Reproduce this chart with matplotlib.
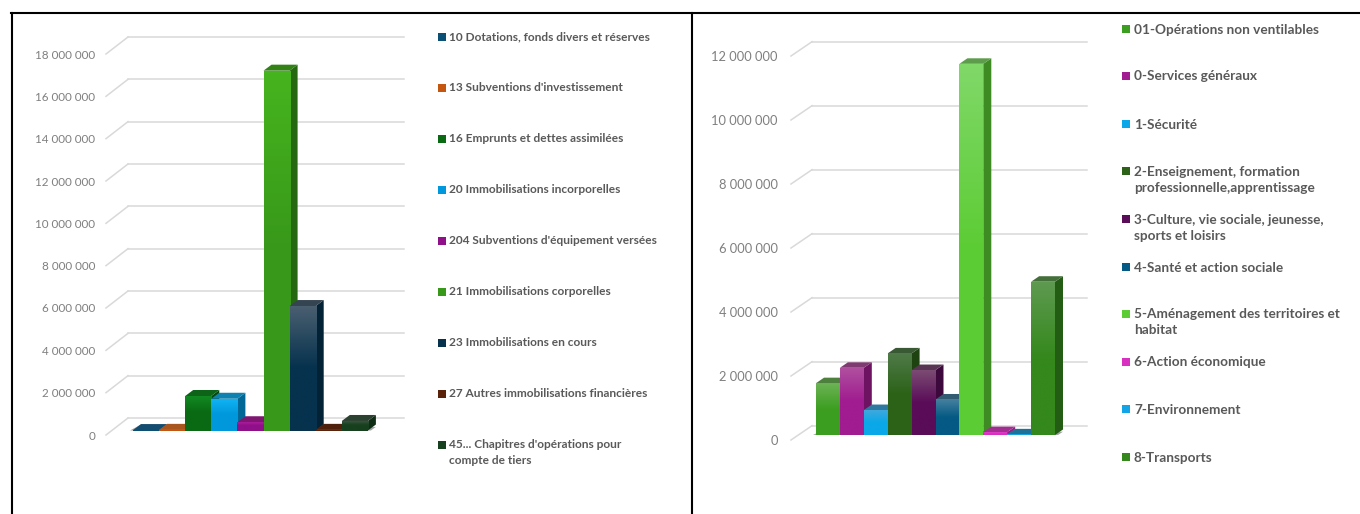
import matplotlib
matplotlib.use("Agg")
import matplotlib.pyplot as plt
import numpy as np
from matplotlib.colors import LinearSegmentedColormap
from matplotlib.lines import Line2D
from matplotlib.patches import Polygon, Rectangle
from matplotlib.transforms import Affine2D, blended_transform_factory

W, H = 1360, 514

left_labels = ["10 Dotations, fonds divers et réserves", "13 Subventions d'investissement",
               "16 Emprunts et dettes assimilées", "20 Immobilisations incorporelles",
               "204 Subventions d'équipement versées", "21 Immobilisations corporelles",
               "23 Immobilisations en cours", "27 Autres immobilisations financières",
               "45... Chapitres d'opérations pour\ncompte de tiers"]
left_values = [20000, 30000, 1630000, 1500000, 390000, 17000000, 5880000, 30000, 450000]
left_top = ["#1a6a9a", "#e9772a", "#128a22", "#12b4f5", "#b0209f", "#46b41e", "#4a5f70", "#6e2c10", "#3d5a42"]
left_bottom = ["#0a4f74", "#c4560f", "#0a6a14", "#0098dc", "#90108a", "#38981a", "#06324e", "#5a2208", "#16401e"]
left_ticks = [0, 2000000, 4000000, 6000000, 8000000, 10000000, 12000000, 14000000, 16000000, 18000000]

right_labels = ["01-Opérations non ventilables", "0-Services généraux", "1-Sécurité",
                "2-Enseignement, formation\nprofessionnelle,apprentissage",
                "3-Culture, vie sociale, jeunesse,\nsports et loisirs", "4-Santé et action sociale",
                "5-Aménagement des territoires et\nhabitat", "6-Action économique",
                "7-Environnement", "8-Transports"]
right_values = [1620000, 2100000, 780000, 2550000, 2030000, 1110000, 11600000, 90000, 20000, 4790000]
right_top = ["#6cb255", "#b0509f", "#3ea8de", "#4f7a48", "#7a4a72", "#45809f", "#80d868", "#e040c8", "#2a9ed2", "#5e9a50"]
right_bottom = ["#3c9e20", "#a01c90", "#0aa8e8", "#2c6218", "#5a0c58", "#045a84", "#5ccc34", "#d830c0", "#12a4e4", "#34881c"]
right_ticks = [0, 2000000, 4000000, 6000000, 8000000, 10000000, 12000000]

left_legend_y = [37, 88, 139, 190, 241, 292, 343, 394, 445]
right_legend_y = [29, 76, 124, 171, 219, 267, 314, 362, 409, 457]

GRID = "#d9d9d9"
TICK = "#7f7f7f"
LEG = "#595959"

plt.rcParams["font.family"] = ["Lato", "DejaVu Sans"]
fig = plt.figure(figsize=(W / 100, H / 100), dpi=100)
fig.patch.set_facecolor("white")


def shade(hex_color, k):
    c = np.array(matplotlib.colors.to_rgb(hex_color)) * k
    return tuple(c)


def chart(box, ymax, ticks, values, tops, bottoms, bar_w, bar_start, floor_dx, floor_dy,
          depth_dx, depth_dy, lift, pad, tick_size):
    x0, x1, y0, y1 = box  # pixel box of the front plane
    ax = fig.add_axes([x0 / W, 1 - y0 / H, (x1 - x0) / W, (y0 - y1) / H])
    xmin = -0.5 - bar_start / bar_w
    xmax = xmin + (x1 - x0) / bar_w
    ux = 1 / bar_w
    uy = ymax / (y0 - y1)
    for s in ax.spines.values():
        s.set_visible(False)
    ax.patch.set_alpha(0)
    back = blended_transform_factory(ax.transAxes, ax.transData) + Affine2D().translate(floor_dx, floor_dy)
    for t in ticks:
        ax.plot([0, 1], [t, t], transform=back, color=GRID, lw=1.1, clip_on=False, zorder=1)
        ax.plot([xmin, xmin + floor_dx * ux], [t, t + floor_dy * uy], color=GRID, lw=1.1,
                clip_on=False, zorder=1)
    ax.set_yticks(ticks)
    ax.set_yticklabels([f"{t:,}".replace(",", " ") for t in ticks], fontsize=tick_size, color=TICK)
    ax.tick_params(axis="y", length=0, pad=pad)
    ax.set_xticks([])

    up = ax.transData + Affine2D().translate(0, lift)
    hw = 0.5
    dx, dy = depth_dx * ux, depth_dy * uy
    ax.add_patch(Polygon([(-hw - 3 * ux, 0), (len(values) - 0.5 + 3 * ux, 0),
                          (len(values) - 0.5 + dx, dy * 0.6), (-hw + dx, dy)],
                         transform=up, facecolor="#333333", alpha=0.45, edgecolor="none", zorder=2))
    z = 3
    for i, v in enumerate(values):
        t, b = tops[i], bottoms[i]
        ax.add_patch(Polygon([(i + hw, 0), (i + hw + dx, dy), (i + hw + dx, v + dy), (i + hw, v)],
                             transform=up, facecolor=shade(b, 0.68), edgecolor="none", zorder=z))
        ax.add_patch(Polygon([(i - hw, v), (i + hw, v), (i + hw + dx, v + dy), (i - hw + dx, v + dy)],
                             transform=up, facecolor=shade(t, 0.72), edgecolor="none", zorder=z + 0.1))
        bar = ax.bar(i, v, width=1, bottom=0, color=b, transform=up, zorder=z + 0.2, linewidth=0)[0]
        cmap = LinearSegmentedColormap.from_list("g", [t, b, b])
        im = ax.imshow(np.linspace(0, 1, 64).reshape(-1, 1), cmap=cmap, origin="upper", aspect="auto",
                       extent=(i - hw, i + hw, 0, v), transform=up, zorder=z + 0.3, interpolation="bilinear")
        im.set_clip_path(bar)
        z += 1
    ax.set_xlim(xmin, xmax)
    ax.set_ylim(0, ymax)
    return ax


chart((106, 382, 435, 54), 18000000, left_ticks, left_values, left_top, left_bottom,
      26.1, 27, 22, 17, 8, 6, 4.5, 8, 8.4)
chart((791, 1066, 440, 56), 12000000, right_ticks, right_values, right_top, right_bottom,
      23.9, 25, 21, 14.3, 8, 5.5, 5, 9.5, 9.3)


def legend(labels, colors, ys, sq_x, tx_x, size, spacing, shift):
    for lab, col, y in zip(labels, colors, ys):
        fig.add_artist(Rectangle((sq_x / W, 1 - (y + 4) / H), 8 / W, 8 / H, transform=fig.transFigure,
                                 facecolor=col, edgecolor="none"))
        fig.text(tx_x / W, 1 - (y - 7 + shift) / H, lab, fontsize=size, fontweight="bold", color=LEG,
                 ha="left", va="top", linespacing=spacing)


legend(left_labels, left_bottom, left_legend_y, 438, 449, 8.6, 1.5, 1.2)
legend(right_labels, right_bottom, right_legend_y, 1122, 1134, 9.8, 1.4, 1.5)

for xs, ys in [((11, 1360), (13, 13)), ((11.5, 11.5), (13, 514)), ((692, 692), (13, 514))]:
    fig.add_artist(Line2D([x / W for x in xs], [1 - y / H for y in ys], color="black", lw=1.5,
                          transform=fig.transFigure))

fig.savefig("out.png", dpi=100)
